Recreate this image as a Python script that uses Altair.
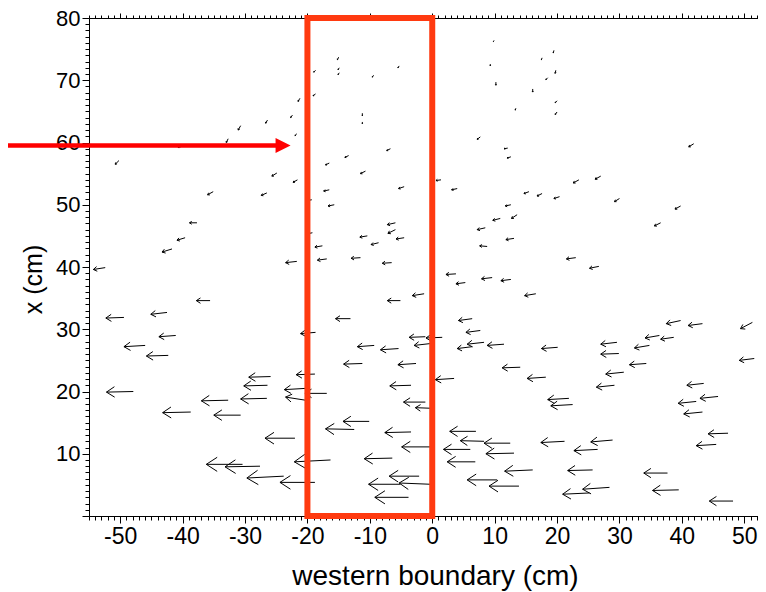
import altair as alt
import pandas as pd

# ---- quiver data: tail position (x, y) and vector (u, v), all in cm ----
arrow_x = [
    -18.7, -18.7, -21.2, -22.4, -26.4, -30.7, -21.7, -32.7, -40.3, -50.2,
    -24.9, -21.6, -35.1, -26.5, -19.3, -37.7, -39.6, -41.7, -19.2, -52.4,
    -21.7, -35.6, -49.4, -42.5, -41.1, -18.7, -15.0, -14.9, -14.9, -9.4,
    -5.3, -11.2, -11.2, -6.7, -13.4, -16.5, -10.7, -4.5, -16.5, -15.7,
    -5.9, -5.9, -10.4, -8.6, -4.5, -17.6, -16.9, -11.5, -6.5, -1.3,
    -5.1, -13.1, -1.1, -0.3, 9.9, 19.5, 17.6, 9.3, 19.8, 18.5,
    10.2, 16.1, 20.0, 13.4, 20.0, 7.7, 41.9, 12.1, 12.6, 1.4,
    4.0, 15.5, 17.6, 20.4, 23.5, 27.0, 30.0, 39.8, 36.6, 12.6,
    13.6, 10.9, 8.5, 13.1, 8.8, 23.0, 26.7, 3.8, 5.3, 9.6,
    12.6, 16.6, 6.4, 7.7, 39.8, 43.3, 51.3, 51.6, 36.4, 38.7,
    29.6, 34.8, 29.9, 34.3, 30.7, 29.2, 43.5, 45.8, 42.3, 43.3,
    8.3, 6.4, 11.5, 20.1, 14.1, 18.2, 3.5, 21.9, 22.5, 7.0,
    8.3, 12.5, 6.1, 13.1, 6.9, 16.1, 10.4, 13.9, 21.2, 26.5,
    28.9, 25.7, 25.2, 28.4, 37.7, 39.5, 48.2, 47.4, 45.5, -46.0,
    -42.3, -9.3, -5.4, -11.2, -2.6, -25.9, -18.8, -26.4, -20.3, -47.9,
    -3.4, -32.7, -26.5, -20.3, -16.9, -1.1, 0.0, -38.7, -30.7, -10.1,
    -12.5, -3.4, -22.0, -0.3, -6.4, -16.3, -30.4, -27.6, -23.8, -18.8,
    -2.1, -0.3, -5.1, -3.8, 1.6,
]
arrow_y = [
    71.6, 67.8, 67.1, 64.4, 63.6, 62.7, 61.4, 60.6, 59.3, 57.1,
    55.1, 54.0, 52.1, 51.9, 50.8, 47.1, 44.7, 42.9, 45.5, 39.9,
    40.9, 34.6, 31.9, 32.7, 29.0, 29.5, 73.7, 72.0, 71.2, 70.8,
    72.3, 64.7, 63.3, 59.0, 57.9, 56.7, 55.4, 52.9, 52.4, 50.0,
    47.1, 46.0, 45.0, 43.9, 44.7, 43.4, 41.3, 41.5, 40.7, 35.7,
    34.6, 31.7, 28.8, 27.7, 76.4, 74.8, 73.6, 72.6, 71.6, 70.4,
    69.7, 68.6, 66.7, 65.5, 64.9, 60.9, 59.8, 59.1, 57.7, 54.0,
    52.6, 52.1, 51.8, 51.3, 54.0, 54.6, 51.0, 49.8, 47.1, 50.0,
    48.4, 47.8, 46.3, 44.6, 43.3, 41.5, 40.1, 38.9, 37.5, 38.3,
    38.0, 35.7, 31.7, 29.8, 31.4, 30.9, 31.1, 25.3, 29.0, 28.7,
    27.9, 27.4, 26.1, 24.5, 23.1, 21.0, 21.3, 19.2, 18.4, 16.7,
    27.9, 27.2, 27.6, 27.1, 23.9, 22.3, 22.1, 18.9, 17.9, 13.6,
    12.0, 11.7, 10.7, 10.1, 8.7, 7.4, 5.8, 4.8, 12.0, 10.7,
    12.2, 7.4, 3.7, 4.6, 6.9, 4.2, 2.4, 13.3, 11.5, 27.4,
    25.8, 27.4, 26.9, 24.5, 24.5, 22.4, 22.8, 21.0, 20.5, 20.0,
    21.0, 18.6, 18.9, 18.6, 19.7, 18.3, 17.3, 16.7, 16.2, 15.2,
    13.9, 13.5, 12.5, 11.1, 9.3, 9.0, 8.3, 8.0, 6.4, 5.4,
    6.4, 5.1, 5.1, 3.0, 28.7,
]
arrow_u = [
    -0.3, -0.4, -0.3, -0.3, -0.3, -0.4, -0.3, -0.3, -0.4, -0.6,
    -0.8, -0.7, -0.9, -0.9, -0.6, -1.2, -1.3, -1.6, -1.0, -1.9,
    -1.8, -2.2, -2.9, -2.6, -2.7, -2.4, -0.2, -0.2, -0.2, -0.2,
    -0.2, 0.0, 0.0, -0.6, -0.6, -0.6, -0.8, -0.9, -0.9, -1.0,
    -1.3, -1.2, -1.2, -1.2, -1.3, -1.2, -1.5, -1.5, -1.5, -1.9,
    -2.1, -2.4, -2.6, -2.6, -0.1, -0.1, -0.1, 0.0, -0.1, -0.3,
    0.0, 0.0, -0.3, -0.1, -0.3, -0.5, -0.8, -0.6, -0.6, -0.8,
    -0.9, -0.8, -0.8, -0.9, -0.9, -0.9, -0.8, -0.9, -1.0, -0.9,
    -0.9, -1.2, -1.3, -1.3, -1.2, -1.5, -1.5, -1.6, -1.5, -1.7,
    -1.6, -1.8, -2.2, -2.3, -2.3, -2.3, -1.9, -2.4, -2.3, -2.1,
    -2.6, -2.4, -2.9, -2.7, -2.9, -2.9, -2.7, -2.9, -2.9, -3.0,
    -2.7, -2.4, -2.7, -2.6, -2.9, -3.0, -3.0, -3.4, -3.5, -4.2,
    -3.8, -4.2, -4.3, -4.5, -4.5, -4.5, -4.8, -4.8, -3.8, -3.8,
    -3.5, -4.0, -4.3, -4.3, -3.8, -4.2, -3.8, -3.2, -3.2, -3.4,
    -3.5, -2.7, -2.9, -3.0, -2.9, -3.5, -3.0, -3.8, -3.4, -4.3,
    -3.4, -4.3, -4.2, -3.2, -3.5, -3.5, -2.7, -4.5, -4.3, -4.2,
    -4.6, -4.2, -4.8, -4.6, -4.5, -5.8, -5.8, -5.6, -5.9, -5.6,
    -4.8, -5.0, -5.1, -5.4, -2.6,
]
arrow_v = [
    -0.3, -0.3, -0.5, -0.4, -0.5, -0.7, -0.3, -0.6, -0.1, -0.6,
    -0.5, -0.4, -0.5, -0.4, -0.1, 0.0, -0.4, -0.5, -0.2, -0.3,
    -0.2, 0.0, -0.1, -0.3, -0.2, -0.2, -0.4, -0.3, -0.3, -0.3,
    -0.3, -0.4, -0.3, -0.3, -0.3, -0.3, -0.4, -0.3, -0.2, -0.2,
    -0.3, -0.6, -0.2, -0.3, -0.2, -0.2, -0.2, -0.1, -0.1, -0.3,
    0.0, 0.0, -0.1, -0.3, -0.2, -0.4, -0.3, -0.3, -0.5, -0.3,
    -0.5, -0.5, -0.3, -0.3, -0.4, -0.4, -0.5, -0.1, -0.2, -0.1,
    -0.2, -0.3, -0.4, -0.3, -0.5, -0.5, -0.5, -0.5, -0.5, -0.2,
    -0.6, -0.3, -0.3, -0.2, 0.1, -0.2, -0.3, -0.1, -0.2, -0.2,
    -0.2, -0.3, -0.3, -0.3, -0.5, -0.3, -1.0, -0.3, -0.4, -0.3,
    -0.3, -0.4, -0.1, -0.2, -0.3, -0.3, -0.3, -0.3, -0.3, -0.3,
    -0.3, -0.3, -0.2, -0.2, -0.1, -0.2, -0.2, -0.2, -0.2, 0.0,
    0.1, 0.0, 0.0, -0.1, 0.0, -0.2, 0.0, 0.0, -0.2, -0.2,
    -0.3, -0.1, -0.2, -0.3, 0.0, -0.1, 0.0, -0.1, -0.2, -0.2,
    -0.1, -0.2, -0.2, -0.1, -0.2, -0.1, -0.1, -0.1, -0.2, -0.1,
    -0.1, -0.1, -0.1, 0.5, 0.0, 0.0, 0.1, -0.1, 0.0, 0.0,
    0.1, -0.1, 0.0, 0.0, -0.1, -0.3, 0.0, -0.1, -0.3, 0.0,
    0.0, 0.2, 0.0, 0.0, -0.1,
]

# ---- annotations ----
box_x = [-20, 0]          # highlighted western-boundary strip
box_y = [0, 80]
pointer_x = [-72, -25]    # red pointer shaft
pointer_tip_x = [-23.9]   # red pointer head centre
pointer_y = [59.5]

x_ticks = list(range(-55, 53))
y_ticks = list(range(0, 81))

FONT = "Liberation Sans"
xs = alt.Scale(domain=[-55, 52.2], nice=False, zero=False)
ys = alt.Scale(domain=[0, 80], nice=False, zero=False)

df = pd.DataFrame({"x": arrow_x, "y": arrow_y, "u": arrow_u, "v": arrow_v})

A, B = 0.3, 0.65  # arrow-head length fraction and half-width ratio
base = alt.Chart(df).transform_calculate(
    tx="datum.x + datum.u", ty="datum.y + datum.v"
).transform_calculate(
    b1x=f"datum.tx - {A}*(datum.u + {B}*datum.v)",
    b1y=f"datum.ty - {A}*(datum.v - {B}*datum.u)",
    b2x=f"datum.tx - {A}*(datum.u - {B}*datum.v)",
    b2y=f"datum.ty - {A}*(datum.v + {B}*datum.u)",
)

major = "datum.value % 10 === 0"
x_axis = alt.Axis(
    orient="bottom", values=x_ticks,
    labelExpr=f"{major} ? '' + datum.value : ''",
    tickSize={"condition": {"test": major, "value": 7}, "value": 4},
    labelOverlap=False, labelFlush=False, labelFont=FONT, labelFontSize=23,
    labelColor="black", labelPadding=2, domainColor="black", tickColor="black",
    grid=False, title="western boundary (cm)", titleFont=FONT, titleFontSize=28,
    titleFontWeight="normal", titleColor="black", titleX=346, titleY=68,
    titleAlign="center", titleBaseline="alphabetic",
)
y_axis = alt.Axis(
    orient="left", values=y_ticks,
    labelExpr=f"{major} && datum.value !== 0 ? '' + datum.value : ''",
    tickSize={"condition": {"test": major, "value": 7}, "value": 4},
    labelOverlap=False, labelFlush=False, labelFont=FONT, labelFontSize=22,
    labelColor="black", labelPadding=2, domainColor="black", tickColor="black",
    grid=False, title="x (cm)", titleFont=FONT, titleFontSize=25,
    titleFontWeight="normal", titleColor="black", titleX=-56, titleY=261,
    titleAngle=270, titleAlign="center", titleBaseline="middle",
)
top_axis = alt.Axis(
    orient="top", values=x_ticks, labels=False, title="",
    tickSize={"condition": {"test": major, "value": 5}, "value": 3},
    domainColor="black", tickColor="black", grid=False,
)

shafts = base.mark_rule(color="black", strokeWidth=1, clip=False).encode(
    x=alt.X("x:Q", scale=xs, axis=x_axis),
    y=alt.Y("y:Q", scale=ys, axis=y_axis),
    x2="tx:Q", y2="ty:Q",
)
barb1 = base.mark_rule(color="black", strokeWidth=1, clip=False).encode(
    x=alt.X("b1x:Q", scale=xs, axis=None),
    y=alt.Y("b1y:Q", scale=ys, axis=None),
    x2="tx:Q", y2="ty:Q",
)
barb2 = base.mark_rule(color="black", strokeWidth=1, clip=False).encode(
    x=alt.X("b2x:Q", scale=xs, axis=None),
    y=alt.Y("b2y:Q", scale=ys, axis=None),
    x2="tx:Q", y2="ty:Q",
)

box_df = pd.DataFrame({"x": [box_x[0]], "x2": [box_x[1]], "y": [box_y[0]], "y2": [box_y[1]]})
box = alt.Chart(box_df).mark_rect(
    fill="transparent", stroke="#ff3a10", strokeWidth=6, clip=False
).encode(
    x=alt.X("x:Q", scale=xs, axis=top_axis),
    x2="x2:Q",
    y=alt.Y("y:Q", scale=ys, axis=None),
    y2="y2:Q",
)

ptr_df = pd.DataFrame({"x": [pointer_x[0]], "x2": [pointer_x[1]], "y": pointer_y})
ptr_shaft = alt.Chart(ptr_df).mark_rule(color="#ff0000", strokeWidth=4.5, clip=False).encode(
    x=alt.X("x:Q", scale=xs, axis=None), x2="x2:Q",
    y=alt.Y("y:Q", scale=ys, axis=None),
)
head_df = pd.DataFrame({"x": pointer_tip_x, "y": pointer_y})
ptr_head = alt.Chart(head_df).mark_point(
    shape="M-1,-1L1,0L-1,1Z", size=225, filled=True, color="#ff0000",
    opacity=1, strokeWidth=0, clip=False,
).encode(
    x=alt.X("x:Q", scale=xs, axis=None),
    y=alt.Y("y:Q", scale=ys, axis=None),
)

chart = alt.layer(
    shafts, barb1, barb2, box, ptr_shaft, ptr_head
).resolve_axis(x="independent", y="independent").properties(
    width=669, height=498,
    padding={"left": 81, "top": 10, "right": 0, "bottom": 75},
    autosize=alt.AutoSizeParams(type="none"),
    background="white",
).configure_view(strokeWidth=0)

chart.save("out.html", embed_options={"renderer": "svg", "actions": False})
